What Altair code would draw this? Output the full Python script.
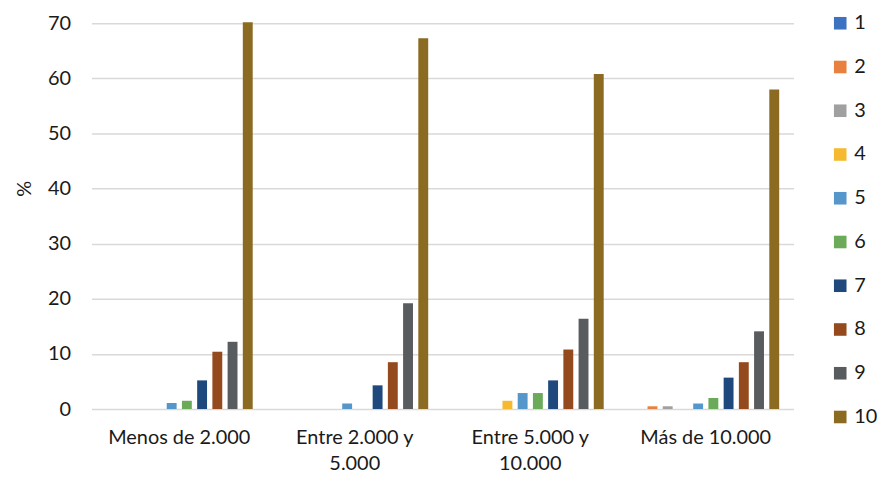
import altair as alt
import pandas as pd

groups = ["Menos de 2.000", "Entre 2.000 y\n5.000", "Entre 5.000 y\n10.000", "Más de 10.000"]
series = ["1", "2", "3", "4", "5", "6", "7", "8", "9", "10"]
colors = ["#3C72C0", "#E8803F", "#A0A0A0", "#F5BA30", "#5596CB",
          "#6AAA59", "#1F497D", "#954A1E", "#595C5F", "#8B6B22"]

v_menos2 = [0, 0, 0, 0, 1.1, 1.5, 5.2, 10.4, 12.2, 70.2]
v_2a5 = [0, 0, 0, 0, 1.0, 0, 4.3, 8.5, 19.2, 67.3]
v_5a10 = [0, 0, 0, 1.5, 2.9, 2.9, 5.2, 10.8, 16.4, 60.8]
v_mas10 = [0, 0.5, 0.5, 0, 1.0, 2.0, 5.7, 8.5, 14.1, 58.0]

rows = []
for g, vals in zip(groups, [v_menos2, v_2a5, v_5a10, v_mas10]):
    for s, v in zip(series, vals):
        rows.append({"grupo": g, "serie": s, "valor": v})
df = pd.DataFrame(rows)

FONT = "Lato"
FS = 20

chart = alt.Chart(df).mark_bar().encode(
    x=alt.X("grupo:N", sort=groups, title=None,
            scale=alt.Scale(paddingInner=0, paddingOuter=0),
            axis=alt.Axis(labelAngle=0, domain=False, ticks=False, labelPadding=19,
                          labelFontSize=FS, labelFont=FONT, labelColor="#1a1a1a",
                          labelLineHeight=26, labelExpr="split(datum.label, '\\n')")),
    xOffset=alt.XOffset("serie:N", sort=series,
                        scale=alt.Scale(paddingInner=0.35, paddingOuter=0.94)),
    y=alt.Y("valor:Q", title="%",
            scale=alt.Scale(domain=[0, 70], nice=False),
            axis=alt.Axis(values=[0, 10, 20, 30, 40, 50, 60, 70], domain=False, ticks=False,
                          labelPadding=21, labelFontSize=FS, labelFont=FONT,
                          labelColor="#1a1a1a", gridColor="#D9D9D9", gridWidth=1.5,
                          titleFont=FONT, titleFontSize=FS, titleFontWeight="normal",
                          titleColor="#1a1a1a", titleAngle=-90, titleX=-67, titleY=166,
                          titleAlign="center", titleBaseline="middle")),
    color=alt.Color("serie:N", sort=series,
                    scale=alt.Scale(domain=series, range=colors),
                    legend=alt.Legend(title=None, orient="none", legendX=743, legendY=-10,
                                      symbolType="square", symbolSize=160,
                                      symbolStrokeWidth=0, labelFont=FONT,
                                      labelFontSize=FS, labelColor="#1a1a1a",
                                      labelOffset=4, rowPadding=24, padding=0)),
).properties(
    width=706, height=388,
    padding={"left": 84, "top": 14, "right": 88, "bottom": 64},
    autosize=alt.AutoSizeParams(type="none"),
).configure_view(stroke=None)

chart.save("out.html", embed_options={"renderer": "svg", "actions": False})
